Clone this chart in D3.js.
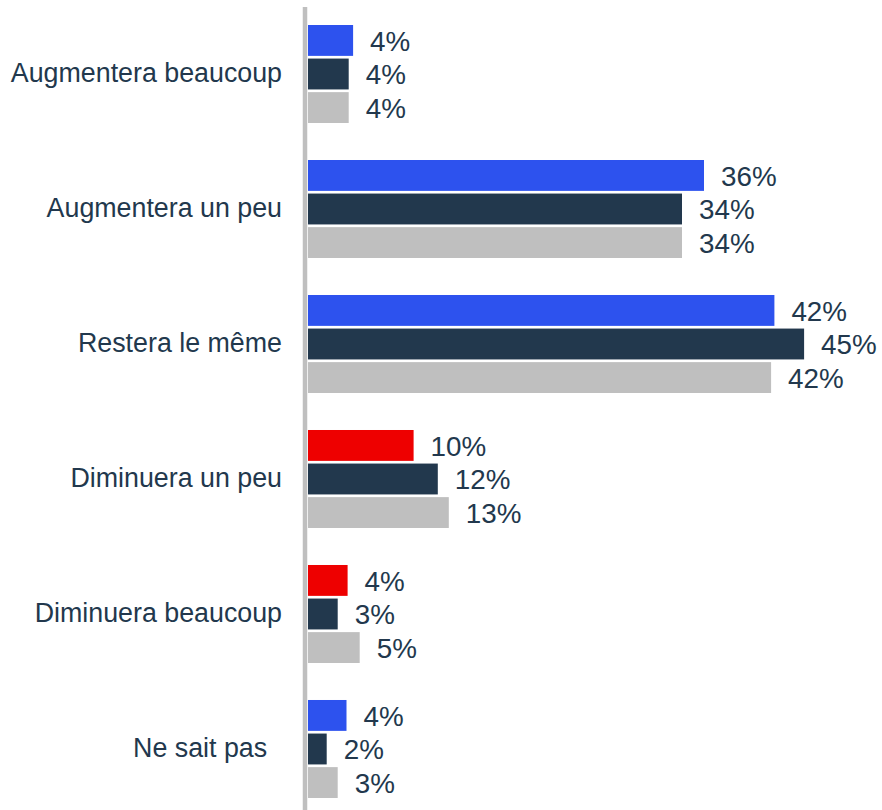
<!DOCTYPE html>
<html>
<head>
<meta charset="utf-8">
<script src="https://cdn.jsdelivr.net/npm/d3@7"></script>
<style>
  html, body { margin: 0; padding: 0; background: #ffffff; }
  svg { display: block; }
</style>
</head>
<body>
<svg id="chart" width="882" height="810"></svg>
<script>
// ---- data ----
const categories = [
  "Augmentera beaucoup",
  "Augmentera un peu",
  "Restera le même",
  "Diminuera un peu",
  "Diminuera beaucoup",
  "Ne sait pas\u00a0\u00a0"
];
const seriesNames = ["Vague 3", "Vague 2", "Vague 1"];
const series1 = [4.1, 36.0, 42.4, 9.6, 3.6, 3.5];
const series2 = [3.7, 34.0, 45.1, 11.8, 2.7, 1.7];
const series3 = [3.7, 34.0, 42.1, 12.8, 4.7, 2.7];
const negativeCategories = ["Diminuera un peu", "Diminuera beaucoup"];

// ---- styles ----
const textColor = "#22384d";
const seriesColors = ["#2d52ee", "#22384d", "#bfbfbf"];
const negativeColor = "#ee0000";

const seriesValues = [series1, series2, series3];
const rows = [];
categories.forEach((c, i) => {
  seriesValues.forEach((vals, s) => {
    rows.push({ category: c, series: seriesNames[s], s, value: vals[i] });
  });
});

const svg = d3.select("#chart");
const font = "'Liberation Sans', Arial, Helvetica, sans-serif";

const x = d3.scaleLinear().domain([0, 50]).range([308, 858]);
const y = d3.scaleBand().domain(categories).range([25, 798]).paddingInner(0.274).paddingOuter(0);
const ys = d3.scaleBand().domain(seriesNames).range([0, y.bandwidth()]).paddingInner(0.08);

// category labels via axis
const axis = svg.append("g")
  .attr("transform", `translate(305,0)`)
  .call(d3.axisLeft(y).tickSize(0).tickPadding(23));
axis.select(".domain").remove();
axis.selectAll("text")
  .attr("fill", textColor)
  .attr("font-family", font)
  .attr("font-size", 26.8)
  .attr("dy", "0.3em")
  .style("white-space", "pre");

// bars
const bars = svg.append("g");
bars.selectAll("rect").data(rows).join("rect")
  .attr("x", x(0))
  .attr("y", d => y(d.category) + ys(d.series))
  .attr("width", d => x(d.value) - x(0))
  .attr("height", ys.bandwidth())
  .attr("fill", d => (d.s === 0 && negativeCategories.includes(d.category.trim())) ? negativeColor : seriesColors[d.s]);

// value labels
bars.selectAll("text").data(rows).join("text")
  .attr("x", d => x(d.value) + 17)
  .attr("y", d => y(d.category) + ys(d.series) + ys.bandwidth() / 2)
  .attr("dy", "0.37em")
  .attr("fill", textColor)
  .attr("font-family", font)
  .attr("font-size", 27.8)
  .text(d => Math.round(d.value) + "%");

// vertical axis line
svg.append("line")
  .attr("x1", 305).attr("x2", 305)
  .attr("y1", 7).attr("y2", 810)
  .attr("stroke", "#bfbfbf")
  .attr("stroke-width", 4.5);
</script>
</body>
</html>
